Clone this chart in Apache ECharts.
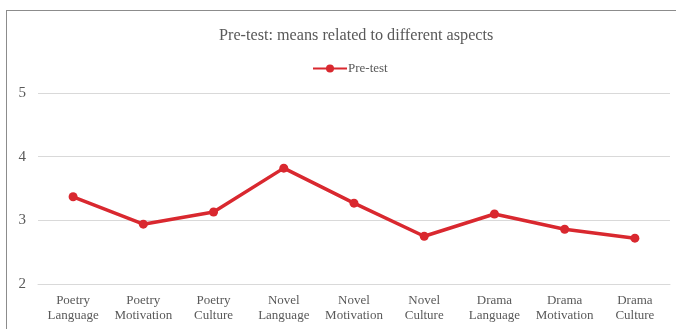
<!DOCTYPE html>
<html>
<head>
<meta charset="utf-8">
<script src="https://cdn.jsdelivr.net/npm/echarts@6/dist/echarts.min.js"></script>
<style>
    html, body { margin: 0; padding: 0; background: #fff; }
    #frame { position: absolute; left: 6px; top: 10px; width: 700px; height: 340px; border: 1px solid #8c8c8c; }
    #chart { position: absolute; left: 0; top: 0; width: 676px; height: 329px; }
</style>
</head>
<body>
<div id="frame"></div>
<div id="chart"></div>
<script>
    // categories and pre-test means
    var categories = ['Poetry\nLanguage', 'Poetry\nMotivation', 'Poetry\nCulture', 'Novel\nLanguage', 'Novel\nMotivation', 'Novel\nCulture', 'Drama\nLanguage', 'Drama\nMotivation', 'Drama\nCulture'];
    var preTest = [3.37, 2.94, 3.13, 3.82, 3.27, 2.75, 3.10, 2.86, 2.72];

    var myChart = echarts.init(document.getElementById('chart'));
    var font = '"Liberation Serif", "DejaVu Serif", serif';
    var option = {
        animation: false,
        title: {
            text: 'Pre-test: means related to different aspects',
            left: 214,
            top: 23,
            textStyle: { fontFamily: font, fontSize: 16.2, fontWeight: 'normal', color: '#595959' }
        },
        legend: {
            top: 57,
            left: 307,
            itemWidth: 34,
            itemHeight: 10,
            itemGap: 4,
            textStyle: { fontFamily: font, fontSize: 13, color: '#595959', padding: [0, 0, 0, -4] },
            data: ['Pre-test']
        },
        grid: {
            left: 38,
            right: 6,
            top: 93,
            bottom: 45
        },
        xAxis: {
            type: 'category',
            data: categories,
            boundaryGap: true,
            axisLine: { show: true, lineStyle: { color: '#d9d9d9' } },
            axisTick: { show: false },
            axisLabel: {
                fontFamily: font, fontSize: 13, color: '#595959',
                lineHeight: 15, margin: 9, interval: 0
            }
        },
        yAxis: {
            type: 'value',
            min: 2,
            max: 5,
            interval: 1,
            axisLine: { show: false },
            axisTick: { show: false },
            axisLabel: { fontFamily: font, fontSize: 15, color: '#595959', margin: 12 },
            splitLine: { lineStyle: { color: '#d9d9d9', width: 1 } }
        },
        series: [
            {
                name: 'Pre-test',
                type: 'line',
                data: preTest,
                symbol: 'circle',
                symbolSize: 9,
                lineStyle: { width: 3.5, color: '#d9282f' },
                itemStyle: { color: '#d9282f' }
            }
        ]
    };
    myChart.setOption(option);
</script>
</body>
</html>
